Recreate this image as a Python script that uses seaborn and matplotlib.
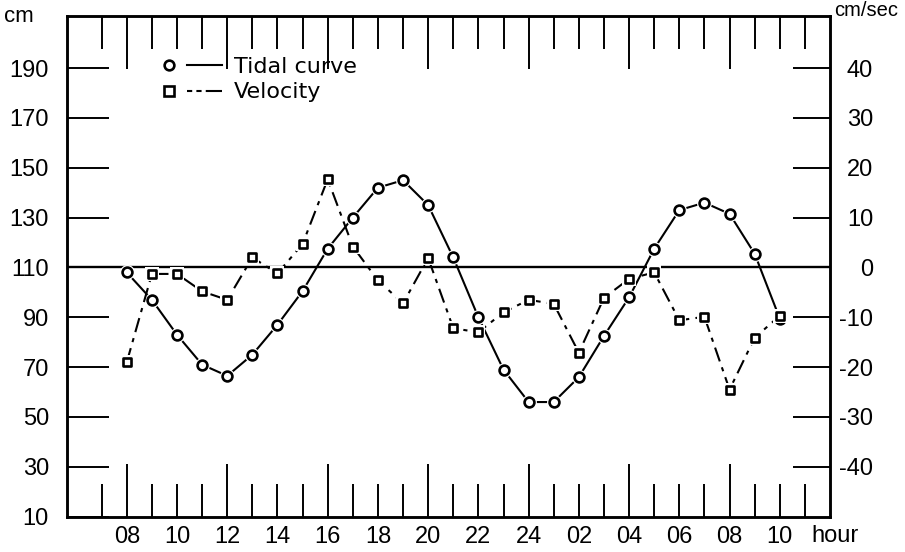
import matplotlib
matplotlib.use("Agg")
import matplotlib.pyplot as plt
import seaborn as sns
from matplotlib.lines import Line2D
from matplotlib.legend_handler import HandlerTuple
from matplotlib.ticker import FuncFormatter

# ---------------- data ----------------
hours = list(range(8, 35))  # 08:00 day 1 ... 10:00 day 2 (hours counted continuously)
tide_cm = [108, 97, 83, 71, 66.5, 75, 87, 100.5, 117.5, 130,
           142, 145, 135, 114, 90, 69, 56, 56, 66, 82.5,
           98, 117.5, 133, 136, 131.5, 115.5, 89.5]
velocity_cms = [-19, -1.3, -1.3, -4.8, -6.5, 2, -1.2, 4.7, 17.7, 4.2,
                -2.6, -7.2, 1.9, -12.2, -13, -9, -6.5, -7.3, -17.1, -6.1,
                -2.3, -1, -10.6, -9.9, -24.5, -14.1, -9.7]

x_label_hours = [8, 10, 12, 14, 16, 18, 20, 22, 24, 26, 28, 30, 32, 34]
x_tick_labels = ["08", "10", "12", "14", "16", "18", "20", "22", "24",
                 "02", "04", "06", "08", "10"]
long_tick_hours = [8, 12, 16, 20, 24, 28, 32]
short_tick_hours = [h for h in range(7, 36) if h not in long_tick_hours]
cm_ticks = [10, 30, 50, 70, 90, 110, 130, 150, 170, 190]
cm_tick_labels = ["10", "30", "50", "70", "90", "110", "130", "150", "170", "190"]
vel_ticks = [-40, -30, -20, -10, 0, 10, 20, 30, 40]
vel_tick_labels = ["-40", "-30", "-20", "-10", "0", "10", "20", "30", "40"]
zero_level_cm = 110
legend_labels = ["Tidal curve", "Velocity"]

# ---------------- style ----------------
plt.rcParams["font.family"] = ["Liberation Sans", "DejaVu Sans"]
plt.rcParams["axes.unicode_minus"] = False
K = "black"
VEL_DASH = (0, (7, 3, 2, 3))

fig = plt.figure(figsize=(9.05, 5.52), dpi=100)
L, R, T, B = 67, 830, 15.7, 516.7
ax = fig.add_axes([L / 905, 1 - B / 552, (R - L) / 905, (B - T) / 552])
ax2 = ax.twinx()

ax.set_xlim(5.62, 36.0)
ax.set_ylim(10, 211)
ax2.set_ylim((10 - zero_level_cm) / 2, (211 - zero_level_cm) / 2)

# zero line
ax.axhline(zero_level_cm, color=K, lw=1.7, zorder=1)

# tidal curve
sns.lineplot(x=hours, y=tide_cm, ax=ax, color=K, lw=1.5, zorder=2)
sns.scatterplot(x=hours, y=tide_cm, ax=ax, marker="o", s=115, color="white",
                edgecolor="white", linewidth=0, zorder=3)
sns.scatterplot(x=hours, y=tide_cm, ax=ax, marker="o", s=50, color="white",
                edgecolor=K, linewidth=1.9, zorder=4)

# velocity
sns.lineplot(x=hours, y=velocity_cms, ax=ax2, color=K, lw=1.5, linestyle=VEL_DASH, zorder=2)
sns.scatterplot(x=hours, y=velocity_cms, ax=ax2, marker="s", s=105, color="white",
                edgecolor="white", linewidth=0, zorder=3)
sns.scatterplot(x=hours, y=velocity_cms, ax=ax2, marker="s", s=40, color="white",
                edgecolor=K, linewidth=1.9, zorder=4)

# ---------------- ticks ----------------
label_map = dict(zip(x_label_hours, x_tick_labels))
fmt = FuncFormatter(lambda v, pos: label_map.get(int(round(v)), ""))
ax.set_xticks(long_tick_hours)
ax.set_xticks(short_tick_hours, minor=True)
ax.xaxis.set_major_formatter(fmt)
ax.xaxis.set_minor_formatter(fmt)
ax.tick_params(axis="x", which="major", direction="in", length=38, width=1.4,
               top=True, bottom=True, pad=7, labelsize=17, color=K)
ax.tick_params(axis="x", which="minor", direction="in", length=24, width=1.4,
               top=True, bottom=True, pad=7, labelsize=17, color=K)

ax.set_yticks(cm_ticks, labels=cm_tick_labels)
ax.tick_params(axis="y", direction="in", length=30, width=1.4, left=True, right=False,
               pad=13, labelsize=17)
ax2.set_yticks(vel_ticks, labels=vel_tick_labels)
ax2.tick_params(axis="y", direction="in", length=27, width=1.4, left=False, right=True,
                pad=31, labelsize=17)
plt.setp(ax2.get_yticklabels(), ha="right")
ax2.set_ylabel("")
ax.set_ylabel("")

for a in (ax, ax2):
    for s in a.spines.values():
        s.set_linewidth(1.8)
        s.set_color(K)

# ---------------- legend ----------------
h_tide = (Line2D([], [], ls="none", marker="o", ms=7, mfc="white", mec=K, mew=1.9),
          Line2D([], [], color=K, lw=1.5))
h_vel = (Line2D([], [], ls="none", marker="s", ms=6.5, mfc="white", mec=K, mew=1.9),
         Line2D([], [], color=K, lw=1.5, linestyle=(0, (2.5, 2, 2.5, 2, 6, 0))))
leg = ax2.legend([h_tide, h_vel], legend_labels,
                 handler_map={tuple: HandlerTuple(ndivide=None, pad=0)},
                 loc="upper left", bbox_to_anchor=(0.1105, 0.918),
                 frameon=False, borderpad=0, borderaxespad=0, handlelength=3.2,
                 handletextpad=0.5, labelspacing=0.25,
                 prop={"family": "DejaVu Sans", "size": 16})

# ---------------- axis titles ----------------
fig.text(19 / 905, 1 - 17 / 552, "cm", ha="center", va="center", fontsize=16)
fig.text(866 / 905, 1 - 11 / 552, "cm/sec", ha="center", va="center", fontsize=14.5)
fig.text(835 / 905, 1 - 536 / 552, "hour", ha="center", va="center", fontsize=17)

fig.savefig("out.png", dpi=100)
